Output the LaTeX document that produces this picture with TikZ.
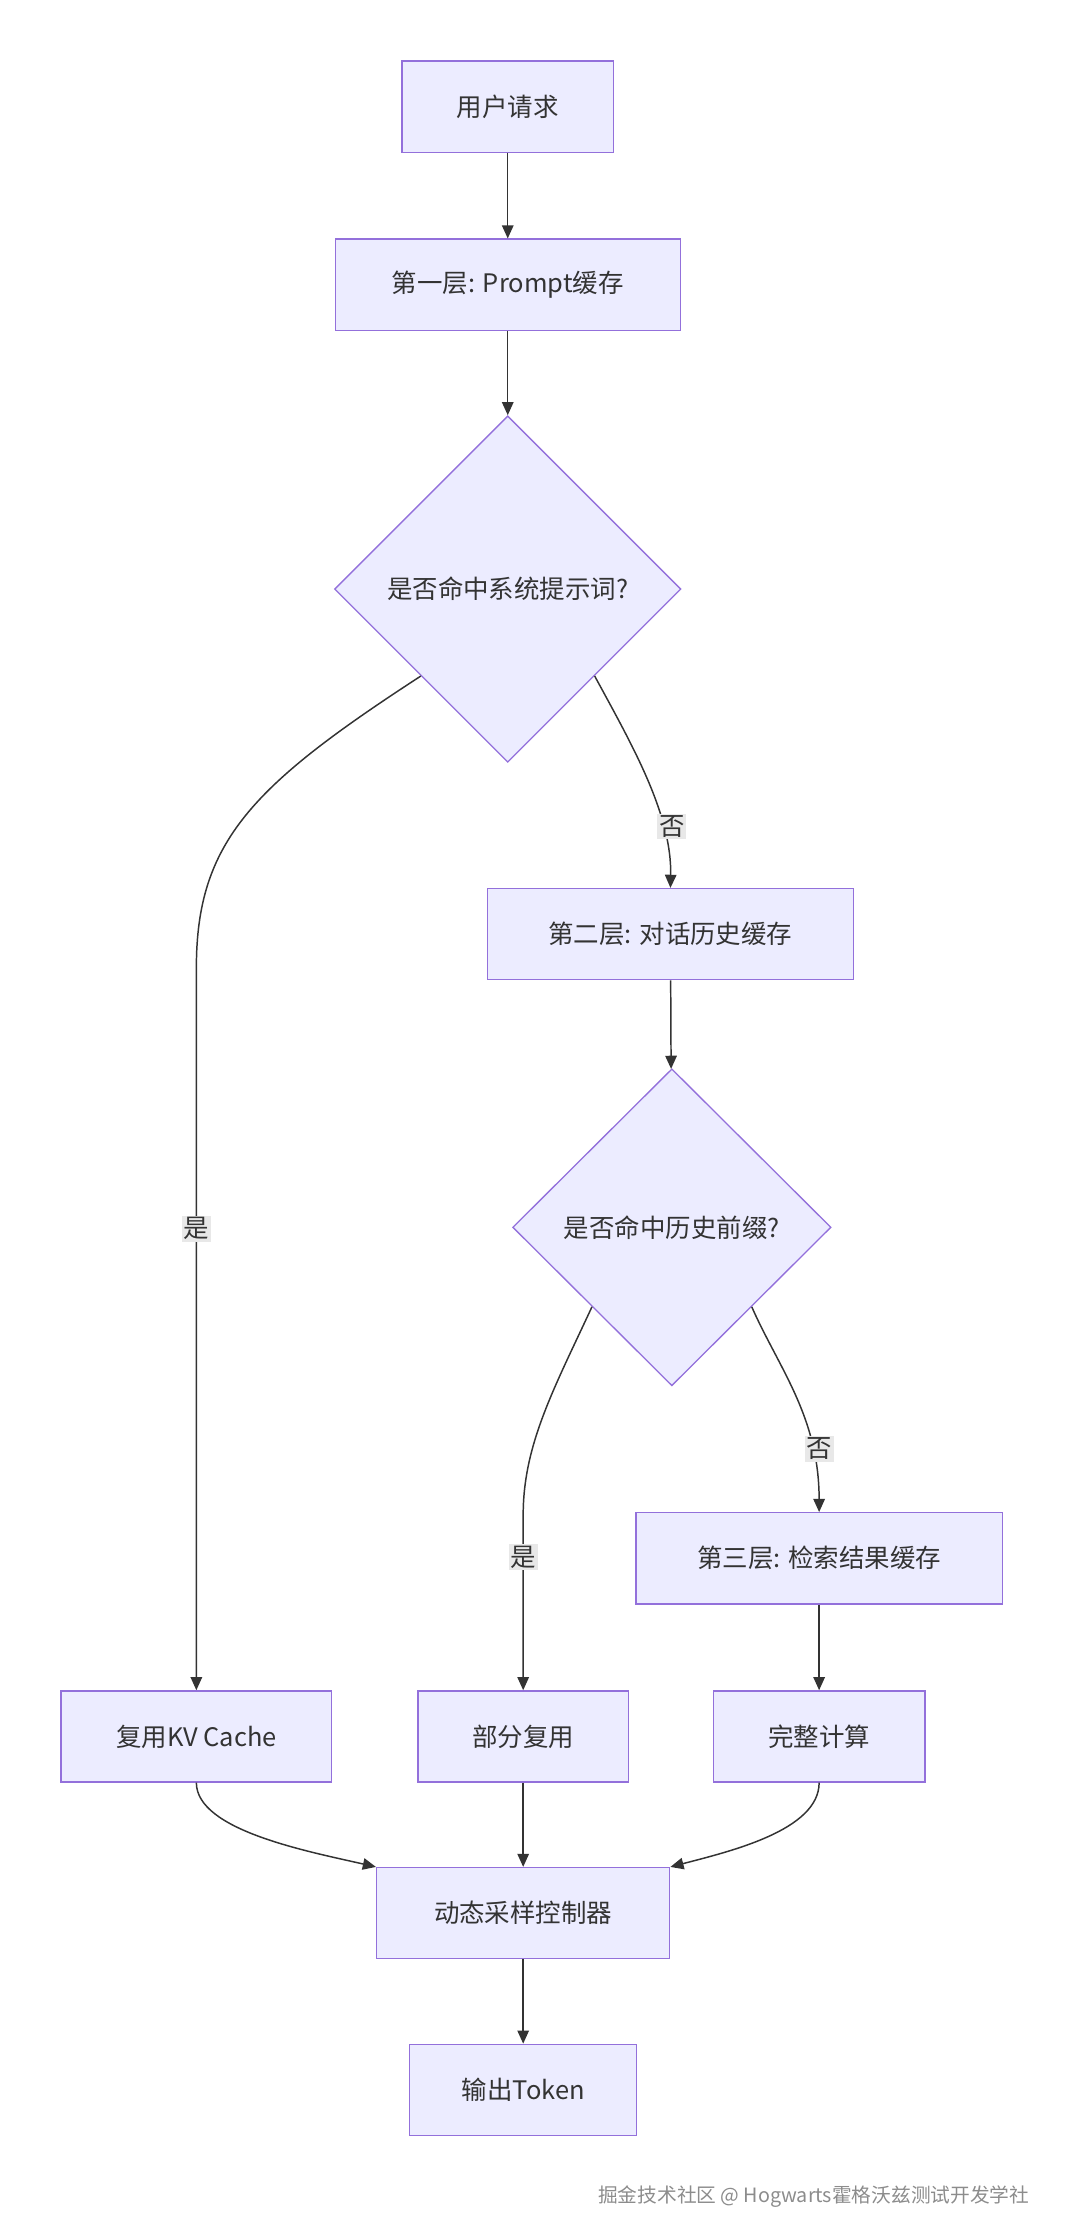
\documentclass[tikz,border=0pt]{standalone}
\usepackage{fontspec}
\setmainfont{Noto Sans CJK SC}
\usepackage{xcolor}
\usetikzlibrary{shapes.geometric}
\usetikzlibrary{arrows.meta}

\definecolor{boxfill}{HTML}{ECECFF}
\definecolor{boxline}{HTML}{9370DB}
\definecolor{edgeline}{HTML}{333333}
\definecolor{lblfill}{HTML}{E8E8E8}

\begin{document}
\begin{tikzpicture}[x=0.03cm,y=-0.03cm,
  box/.style={shape=rectangle,draw=boxline,fill=boxfill,line width=0.8pt,font=\fontsize{15.5}{18}\selectfont,text=black!80},
  choice/.style={shape=diamond,draw=boxline,fill=boxfill,line width=0.8pt,font=\fontsize{15.5}{18}\selectfont,text=black!80,inner sep=0pt},
  flow/.style={-{Triangle[length=8pt,width=7pt]},line width=0.9pt,draw=edgeline},
  lbl/.style={fill=lblfill,inner sep=1pt,font=\fontsize{15.5}{18}\selectfont,text=black!80}]

\useasboundingbox (0,0) rectangle (770,1590.6);

%% nodes

\node[box,minimum width=151*0.03cm,minimum height=65*0.03cm] (req) at (362,76) {用户请求};
\node[box,minimum width=246*0.03cm,minimum height=65*0.03cm] (l1) at (362,203) {第一层: Prompt缓存};
\node[choice,minimum width=247*0.03cm,minimum height=247*0.03cm] (d1) at (362,420) {是否命中系统提示词?};
\node[box,minimum width=261*0.03cm,minimum height=65*0.03cm] (l2) at (478,666) {第二层: 对话历史缓存};
\node[choice,minimum width=227*0.03cm,minimum height=226*0.03cm] (d2) at (479,875) {是否命中历史前缀?};
\node[box,minimum width=261*0.03cm,minimum height=65*0.03cm] (l3) at (584,1111) {第三层: 检索结果缓存};
\node[box,minimum width=193*0.03cm,minimum height=65*0.03cm] (kv) at (140,1238) {复用KV Cache};
\node[box,minimum width=150*0.03cm,minimum height=65*0.03cm] (part) at (373,1238) {部分复用};
\node[box,minimum width=151*0.03cm,minimum height=65*0.03cm] (full) at (584,1238) {完整计算};
\node[box,minimum width=209*0.03cm,minimum height=65*0.03cm] (ctrl) at (373,1364) {动态采样控制器};
\node[box,minimum width=162*0.03cm,minimum height=65*0.03cm] (out) at (373,1490) {输出Token};

%% lines
\draw[flow] (req) -- (l1);
\draw[flow] (l1) -- (d1);
\draw[flow] (d1.south west) .. controls (180,560) and (140,600) .. (140,690) -- (kv.north);
\draw[flow] (d1.south east) .. controls (450,530) and (479,580) .. (l2.north);
\draw[flow] (l2) -- (d2);
\draw[flow] (d2.south west) .. controls (395,990) and (373,1030) .. (373,1080) -- (part.north);
\draw[flow] (d2.south east) .. controls (555,975) and (584,1010) .. (l3.north);
\draw[flow] (l3) -- (full);
\draw[flow] (kv.south) .. controls (140,1305) and (220,1320) .. (ctrl.north west);
\draw[flow] (part) -- (ctrl);
\draw[flow] (full.south) .. controls (584,1305) and (520,1320) .. (ctrl.north east);
\draw[flow] (ctrl) -- (out);

%% labels
\node[lbl] (y1) at (140,876) {是};
\node[lbl] (n1) at (479,589) {否};
\node[lbl] (y2) at (373,1110) {是};
\node[lbl] (n2) at (584,1033) {否};

%% watermark
\node[anchor=east,text=black!45,font=\fontsize{12}{14}\selectfont] (mark) at (738,1566) {掘金技术社区 @ Hogwarts霍格沃兹测试开发学社};

\end{tikzpicture}
\end{document}
